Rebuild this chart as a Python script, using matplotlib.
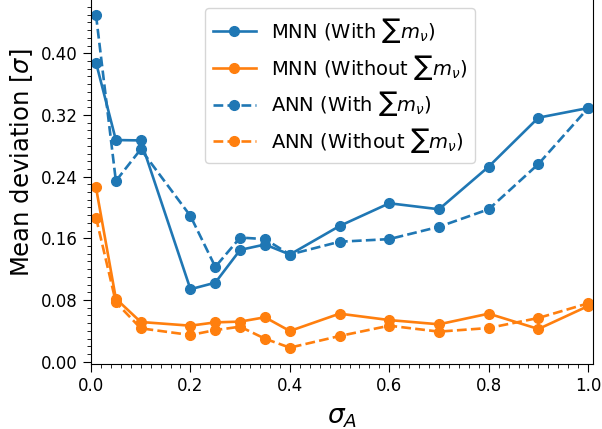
import matplotlib
matplotlib.use("Agg")
import matplotlib.pyplot as plt
from matplotlib.ticker import MultipleLocator

sigma_A = [0.01, 0.05, 0.1, 0.2, 0.25, 0.3, 0.35, 0.4, 0.5, 0.6, 0.7, 0.8, 0.9, 1.0]

mnn_with = [0.388, 0.2875, 0.287, 0.094, 0.1025, 0.145, 0.152, 0.139, 0.176, 0.2055, 0.1977, 0.253, 0.3165, 0.329]
mnn_without = [0.226, 0.0817, 0.0515, 0.0467, 0.051, 0.052, 0.0576, 0.0398, 0.0623, 0.054, 0.0485, 0.0623, 0.0424, 0.0722]
ann_with = [0.4497, 0.2344, 0.2755, 0.189, 0.123, 0.161, 0.159, 0.139, 0.1556, 0.159, 0.175, 0.1977, 0.2564, 0.329]
ann_without = [0.187, 0.077, 0.0433, 0.0346, 0.041, 0.0454, 0.0298, 0.0182, 0.0333, 0.0467, 0.039, 0.0437, 0.0567, 0.0757]

yticks = [0.00, 0.08, 0.16, 0.24, 0.32, 0.40]
xticks = [0.0, 0.2, 0.4, 0.6, 0.8, 1.0]

labels = [r'MNN (With $\sum m_\nu$)', r'MNN (Without $\sum m_\nu$)',
          r'ANN (With $\sum m_\nu$)', r'ANN (Without $\sum m_\nu$)']

blue = '#1f77b4'
orange = '#ff7f0e'

fig = plt.figure(figsize=(6.02, 4.29), dpi=100)
ax = fig.add_axes([0.1512, 0.1515, 0.834, 0.9399])

kw = dict(marker='o', markersize=7, linewidth=1.9)
ax.plot(sigma_A, mnn_with, color=blue, linestyle='-', label=labels[0], **kw)
ax.plot(sigma_A, mnn_without, color=orange, linestyle='-', label=labels[1], **kw)
ax.plot(sigma_A, ann_with, color=blue, linestyle='--', label=labels[2], **kw)
ax.plot(sigma_A, ann_without, color=orange, linestyle='--', label=labels[3], **kw)

ax.set_xlim(0, 1.01)
ax.set_ylim(-0.003, 0.52)
ax.set_xticks(xticks)
ax.set_yticks(yticks)
ax.xaxis.set_minor_locator(MultipleLocator(0.02))
ax.yaxis.set_minor_locator(MultipleLocator(0.01))
ax.tick_params(axis='both', which='major', labelsize=12, length=6)
ax.tick_params(axis='both', which='minor', length=3)

ax.set_xlabel(r'$\sigma_A$', fontsize=19, labelpad=6)
ax.set_ylabel(r'Mean deviation [$\sigma$]', fontsize=17.5)

ax.legend(loc='upper left', bbox_to_anchor=(205 / 602, 1 - 8 / 429),
          bbox_transform=fig.transFigure, borderaxespad=0,
          fontsize=14, handlelength=2.2, labelspacing=0.4)

fig.savefig('out.png', dpi=100)
